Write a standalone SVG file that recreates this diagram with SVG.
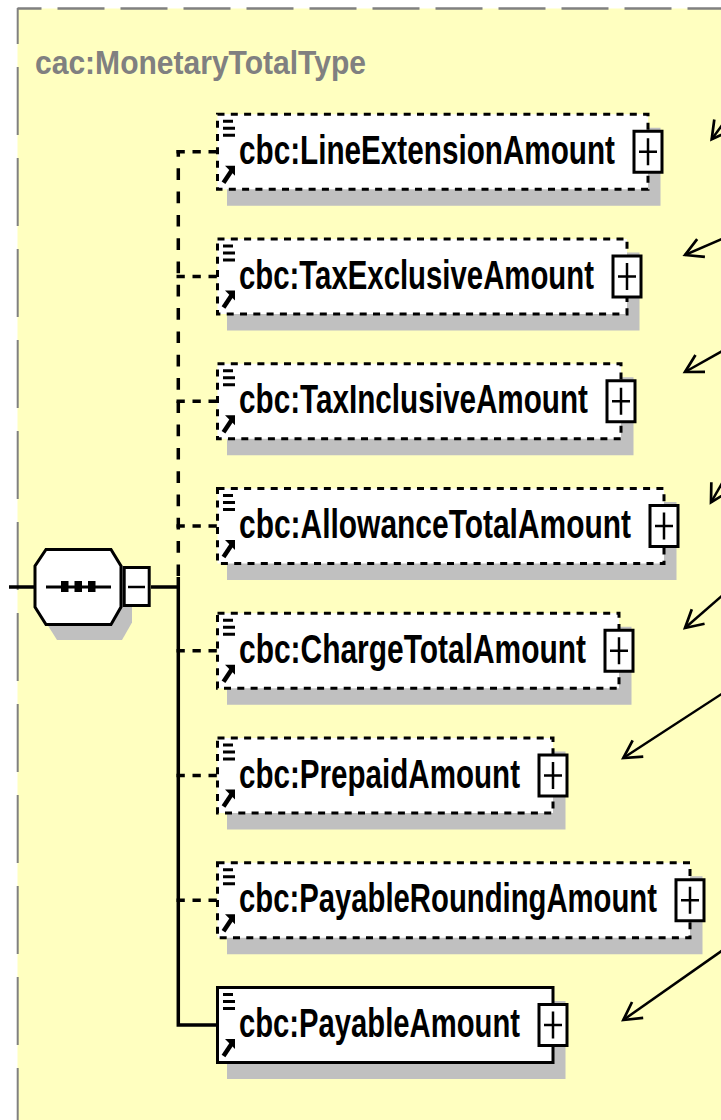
<svg xmlns="http://www.w3.org/2000/svg" xmlns:xlink="http://www.w3.org/1999/xlink" width="721" height="1120" viewBox="0 0 721 1120">
<style>
.shadow{fill:#C0C0C0}
.box{fill:#fff;stroke:#000;stroke-width:3}
.opt{stroke-dasharray:7 6.3}
.lbl{font-family:"Liberation Sans",Arial,sans-serif;font-weight:bold;font-size:29.6px;fill:#000}
.title{font-family:"Liberation Sans",Arial,sans-serif;font-weight:bold;font-size:33px;fill:#808080}
.conn{stroke:#000;stroke-width:3.5;fill:none}
.dashh{stroke-dasharray:8.3 7.7}
.dashv{stroke-dasharray:11.7 11.6;stroke-dashoffset:5}
.note{stroke:#000;stroke-width:2.5;fill:none}
.pm{fill:#fff;stroke:#000;stroke-width:3}
.pml{stroke:#000;stroke-width:2.5;fill:none}
</style>
<defs>
<marker id="ah" markerUnits="userSpaceOnUse" markerWidth="30" markerHeight="30" viewBox="-3 -15 30 30" refX="0" refY="0" orient="auto" overflow="visible">
<path d="M17.5,-9.7 L0,0 L17.5,9.7" fill="none" stroke="#000" stroke-width="2.7"/>
</marker>
<g id="icons">
<rect x="223" y="-32" width="10" height="3" fill="#000"/>
<rect x="223" y="-25" width="12" height="3" fill="#000"/>
<rect x="223" y="-18" width="12" height="3" fill="#000"/>
<polygon points="225,14 235,14 235,24" fill="#000"/>
<line x1="223.5" y1="31" x2="231.5" y2="19" stroke="#000" stroke-width="4.5"/>
</g>
<g id="plus">
<rect class="pm" x="-14" y="-20.5" width="28" height="41"/>
<path class="pml" d="M-9,0 H9 M0,-13.5 V13.5"/>
</g>
</defs>

<rect x="0" y="0" width="721" height="1120" fill="#fff"/>
<rect x="17.5" y="8.5" width="710" height="1120" fill="#FFFFC0"/>
<line x1="17.5" y1="8.5" x2="721" y2="8.5" stroke="#808080" stroke-width="2.5" stroke-dasharray="47 16" stroke-dashoffset="23"/>
<line x1="17.7" y1="8" x2="17.7" y2="1120" stroke="#808080" stroke-width="2" stroke-dasharray="68 23" stroke-dashoffset="32"/>
<text class="title" x="35" y="74" textLength="331" lengthAdjust="spacingAndGlyphs">cac:MonetaryTotalType</text>

<g id="connectors">
<line class="conn" x1="9" y1="587" x2="35" y2="587"/>
<line class="conn" x1="151" y1="587" x2="178.3" y2="587"/>
<line class="conn dashv" x1="178.3" y1="150" x2="178.3" y2="578"/>
<path class="conn" d="M178.3,577 V1025 H217"/>
<line class="conn dashh" x1="176.5" y1="151.75" x2="217" y2="151.75"/>
<line class="conn dashh" x1="176.5" y1="276.5" x2="217" y2="276.5"/>
<line class="conn dashh" x1="176.5" y1="401.25" x2="217" y2="401.25"/>
<line class="conn dashh" x1="176.5" y1="526" x2="217" y2="526"/>
<line class="conn dashh" x1="176.5" y1="650.75" x2="217" y2="650.75"/>
<line class="conn dashh" x1="176.5" y1="775.5" x2="217" y2="775.5"/>
<line class="conn dashh" x1="176.5" y1="900.25" x2="217" y2="900.25"/>
</g>

<g id="sequence">
<polygon class="shadow" points="57,565 122,565 132,581.5 132,622.5 122,640 57,640 46,622.5 46,581.5"/>
<polygon points="46,549.5 111,549.5 121,566 121,607 111,624.5 46,624.5 35,607 35,566" fill="#fff" stroke="#000" stroke-width="3"/>
<line x1="46" y1="587" x2="111" y2="587" stroke="#000" stroke-width="3"/>
<rect x="61" y="581" width="7.5" height="11" fill="#000"/>
<rect x="74.5" y="581" width="7.5" height="11" fill="#000"/>
<rect x="88" y="581" width="7.5" height="11" fill="#000"/>
<rect class="pm" x="124.2" y="567.5" width="25" height="38"/>
<line class="pml" x1="128" y1="587" x2="145" y2="587"/>
</g>

<g id="n1">
<rect class="shadow" x="227" y="127.75" width="433.5" height="78"/>
<rect class="box opt" x="217.5" y="114.25" width="430.5" height="75"/>
<use xlink:href="#icons" transform="translate(0,151.75)"/>
<text class="lbl" transform="translate(239,163.75) scale(1,1.35)" textLength="376" lengthAdjust="spacingAndGlyphs">cbc:LineExtensionAmount</text>
<use xlink:href="#plus" transform="translate(648,151.75)"/>
</g>
<g id="n2">
<rect class="shadow" x="227" y="252.5" width="412.5" height="78"/>
<rect class="box opt" x="217.5" y="239" width="409.5" height="75"/>
<use xlink:href="#icons" transform="translate(0,276.5)"/>
<text class="lbl" transform="translate(239,288.5) scale(1,1.35)" textLength="355" lengthAdjust="spacingAndGlyphs">cbc:TaxExclusiveAmount</text>
<use xlink:href="#plus" transform="translate(627,276.5)"/>
</g>
<g id="n3">
<rect class="shadow" x="227" y="377.25" width="406.5" height="78"/>
<rect class="box opt" x="217.5" y="363.75" width="403.5" height="75"/>
<use xlink:href="#icons" transform="translate(0,401.25)"/>
<text class="lbl" transform="translate(239,413.25) scale(1,1.35)" textLength="349" lengthAdjust="spacingAndGlyphs">cbc:TaxInclusiveAmount</text>
<use xlink:href="#plus" transform="translate(621,401.25)"/>
</g>
<g id="n4">
<rect class="shadow" x="227" y="502" width="449.5" height="78"/>
<rect class="box opt" x="217.5" y="488.5" width="446.5" height="75"/>
<use xlink:href="#icons" transform="translate(0,526)"/>
<text class="lbl" transform="translate(239,538) scale(1,1.35)" textLength="392" lengthAdjust="spacingAndGlyphs">cbc:AllowanceTotalAmount</text>
<use xlink:href="#plus" transform="translate(664,526)"/>
</g>
<g id="n5">
<rect class="shadow" x="227" y="626.75" width="404.5" height="78"/>
<rect class="box opt" x="217.5" y="613.25" width="401.5" height="75"/>
<use xlink:href="#icons" transform="translate(0,650.75)"/>
<text class="lbl" transform="translate(239,662.75) scale(1,1.35)" textLength="347" lengthAdjust="spacingAndGlyphs">cbc:ChargeTotalAmount</text>
<use xlink:href="#plus" transform="translate(619,650.75)"/>
</g>
<g id="n6">
<rect class="shadow" x="227" y="751.5" width="338.5" height="78"/>
<rect class="box opt" x="217.5" y="738" width="335.5" height="75"/>
<use xlink:href="#icons" transform="translate(0,775.5)"/>
<text class="lbl" transform="translate(239,787.5) scale(1,1.35)" textLength="281" lengthAdjust="spacingAndGlyphs">cbc:PrepaidAmount</text>
<use xlink:href="#plus" transform="translate(553,775.5)"/>
</g>
<g id="n7">
<rect class="shadow" x="227" y="876.25" width="475.5" height="78"/>
<rect class="box opt" x="217.5" y="862.75" width="472.5" height="75"/>
<use xlink:href="#icons" transform="translate(0,900.25)"/>
<text class="lbl" transform="translate(239,912.25) scale(1,1.35)" textLength="418" lengthAdjust="spacingAndGlyphs">cbc:PayableRoundingAmount</text>
<use xlink:href="#plus" transform="translate(690,900.25)"/>
</g>
<g id="n8">
<rect class="shadow" x="227" y="1001" width="338.5" height="78"/>
<rect class="box" x="217.5" y="987.5" width="335.5" height="75"/>
<use xlink:href="#icons" transform="translate(0,1025)"/>
<text class="lbl" transform="translate(239,1037) scale(1,1.35)" textLength="281" lengthAdjust="spacingAndGlyphs">cbc:PayableAmount</text>
<use xlink:href="#plus" transform="translate(553,1025)"/>
</g>

<g id="annotations">
<line class="note" marker-start="url(#ah)" x1="711.7" y1="139.3" x2="740" y2="101"/>
<line class="note" marker-start="url(#ah)" x1="685" y1="255" x2="740" y2="231"/>
<line class="note" marker-start="url(#ah)" x1="685" y1="372" x2="740" y2="341"/>
<line class="note" marker-start="url(#ah)" x1="711" y1="502.3" x2="740" y2="452"/>
<line class="note" marker-start="url(#ah)" x1="685" y1="628" x2="740" y2="580"/>
<line class="note" marker-start="url(#ah)" x1="623.3" y1="758" x2="740" y2="682"/>
<line class="note" marker-start="url(#ah)" x1="623.3" y1="1020" x2="740" y2="938"/>
</g>
</svg>
